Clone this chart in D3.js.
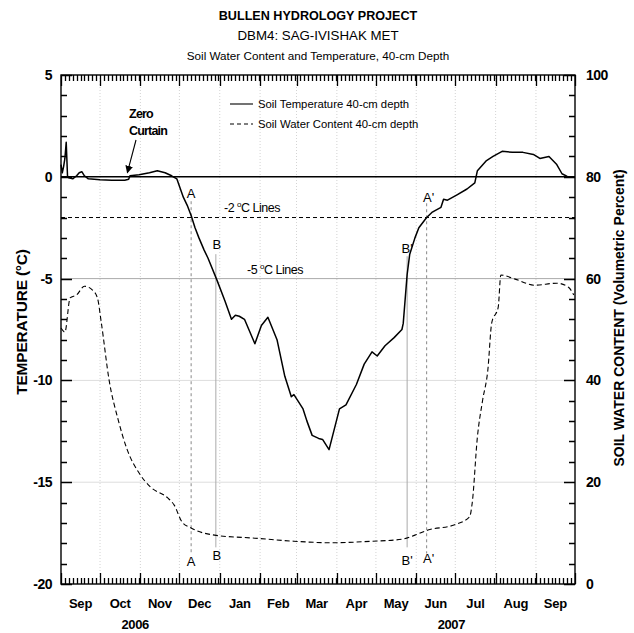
<!DOCTYPE html>
<html>
<head>
<meta charset="utf-8">
<script src="https://cdn.jsdelivr.net/npm/d3@7"></script>
<style>
  body { margin: 0; background: #fff; }
  svg { display: block; font-family: "Liberation Sans", Arial, sans-serif; }
</style>
</head>
<body>
<div id="app"></div>
<script>
// Soil temperature, 40-cm depth (deg C)
const tempSeries = [
  ['2006-09-01', 0.6], ['2006-09-02', 0.2], ['2006-09-03', 0.5], ['2006-09-04', 0.9],
  ['2006-09-05', 1.7], ['2006-09-06', 0.05], ['2006-09-07', -0.05], ['2006-09-10', -0.1],
  ['2006-09-13', 0.05], ['2006-09-15', 0.2], ['2006-09-17', 0.25], ['2006-09-19', 0.05],
  ['2006-09-22', -0.1], ['2006-10-01', -0.15], ['2006-10-10', -0.17], ['2006-10-20', -0.17],
  ['2006-10-23', -0.12], ['2006-10-24', 0.05], ['2006-10-31', 0.1], ['2006-11-08', 0.2],
  ['2006-11-14', 0.3], ['2006-11-20', 0.2], ['2006-11-25', 0.05], ['2006-11-29', -0.1],
  ['2006-12-04', -1.0], ['2006-12-07', -1.4], ['2006-12-10', -1.9], ['2006-12-13', -2.5],
  ['2006-12-16', -3.0], ['2006-12-20', -3.6], ['2006-12-23', -4.0], ['2006-12-30', -5.1],
  ['2007-01-05', -6.1], ['2007-01-10', -7.0], ['2007-01-13', -6.8], ['2007-01-16', -6.85],
  ['2007-01-20', -7.0], ['2007-01-28', -8.2], ['2007-02-02', -7.3], ['2007-02-07', -6.9],
  ['2007-02-14', -8.0], ['2007-02-20', -9.8], ['2007-02-25', -10.8], ['2007-02-27', -10.7],
  ['2007-03-06', -11.4], ['2007-03-09', -12.0], ['2007-03-13', -12.7], ['2007-03-18', -12.85],
  ['2007-03-21', -12.9], ['2007-03-26', -13.4], ['2007-04-03', -11.4], ['2007-04-08', -11.2],
  ['2007-04-16', -10.2], ['2007-04-22', -9.2], ['2007-04-28', -8.6], ['2007-05-02', -8.8],
  ['2007-05-08', -8.3], ['2007-05-15', -7.9], ['2007-05-21', -7.5], ['2007-05-22', -7.2],
  ['2007-05-25', -4.8], ['2007-05-27', -3.8], ['2007-05-31', -3.0], ['2007-06-03', -2.5],
  ['2007-06-09', -2.0], ['2007-06-13', -1.75], ['2007-06-20', -1.5], ['2007-06-22', -1.1],
  ['2007-06-25', -1.15], ['2007-07-02', -0.9], ['2007-07-10', -0.6], ['2007-07-16', -0.3],
  ['2007-07-18', 0.3], ['2007-07-25', 0.8], ['2007-07-30', 1.0], ['2007-08-06', 1.25],
  ['2007-08-14', 1.2], ['2007-08-22', 1.2], ['2007-08-30', 1.1], ['2007-09-04', 0.9],
  ['2007-09-11', 1.0], ['2007-09-17', 0.6], ['2007-09-21', 0.15], ['2007-09-25', 0.02],
  ['2007-09-30', 0.0]
];

// Soil water content, 40-cm depth (volumetric percent)
const waterSeries = [
  ['2006-09-01', 50.3], ['2006-09-04', 49.5], ['2006-09-08', 56.2], ['2006-09-13', 56.8],
  ['2006-09-19', 58.5], ['2006-09-25', 57.8], ['2006-09-29', 56.2], ['2006-10-02', 51.3],
  ['2006-10-08', 40.0], ['2006-10-15', 32.2], ['2006-10-22', 26.3], ['2006-10-31', 21.8],
  ['2006-11-09', 19.0], ['2006-11-22', 16.9], ['2006-11-27', 15.5], ['2006-12-03', 12.2],
  ['2006-12-10', 11.0], ['2006-12-28', 9.6], ['2007-01-28', 9.0], ['2007-02-27', 8.4],
  ['2007-03-28', 8.1], ['2007-04-28', 8.4], ['2007-05-21', 8.8], ['2007-05-31', 9.6],
  ['2007-06-10', 10.6], ['2007-06-30', 11.6], ['2007-07-12', 13.2], ['2007-07-14', 15.9],
  ['2007-07-18', 28.9], ['2007-07-22', 36.1], ['2007-07-26', 42.0], ['2007-07-29', 51.3],
  ['2007-08-03', 54.4], ['2007-08-05', 60.7], ['2007-08-16', 59.9], ['2007-08-31', 58.7],
  ['2007-09-17', 59.1], ['2007-09-26', 58.3], ['2007-09-30', 56.8]
];

// -2 C (A, A') and -5 C (B, B') crossing dates
const markers = [
  ['A', '2006-12-10'], ['B', '2006-12-29'], ["B'", '2007-05-25'], ["A'", '2007-06-09']
];

const tempTicks = [5, 0, -5, -10, -15, -20];
const waterTicks = [0, 20, 40, 60, 80, 100];
const monthLabels = ['Sep', 'Oct', 'Nov', 'Dec', 'Jan', 'Feb', 'Mar', 'Apr', 'May', 'Jun', 'Jul', 'Aug', 'Sep'];
const yearLabels = [['2006', '2006-10-28'], ['2007', '2007-06-28']];
const refLines = [0, -2, -5, -10, -15];

const width = 634;
const height = 633;
const plotLeft = 61, plotRight = 575, plotTop = 75, plotBottom = 584;
const majorLen = 11, minorLen = 6;

const parse = d3.timeParse('%Y-%m-%d');

const svg = d3.select('#app').append('svg')
  .attr('width', width)
  .attr('height', height);

const x = d3.scaleTime()
  .domain([new Date(2006, 8, 1), new Date(2007, 9, 1)])
  .range([plotLeft, plotRight]);
const yT = d3.scaleLinear().domain([-20, 5]).range([plotBottom, plotTop]);
const yW = d3.scaleLinear().domain([0, 100]).range([plotBottom, plotTop]);

const monthStarts = d3.timeMonth.range(new Date(2006, 8, 1), new Date(2007, 9, 2));

// Title
const titles = [
  ['BULLEN HYDROLOGY PROJECT', 20, 12.6, 'bold', 0],
  ['DBM4: SAG-IVISHAK MET', 40, 13.3, 'normal', 0],
  ['Soil Water Content and Temperature, 40-cm Depth', 60, 11.7, 'normal', 0]
];
svg.selectAll('.title')
  .data(titles)
  .enter().append('text')
  .attr('x', 318)
  .attr('y', d => d[1])
  .attr('text-anchor', 'middle')
  .style('font-size', d => `${d[2]}px`)
  .style('font-weight', d => d[3])
  .style('letter-spacing', d => `${d[4]}px`)
  .text(d => d[0]);

// Grid: dotted month lines
svg.append('g')
  .selectAll('line')
  .data(monthStarts.slice(1, -1))
  .enter().append('line')
  .attr('x1', d => x(d)).attr('x2', d => x(d))
  .attr('y1', plotTop).attr('y2', plotBottom)
  .attr('stroke', '#c8c8c8')
  .attr('stroke-width', 0.8)
  .attr('stroke-dasharray', '1,2');

// Horizontal reference lines
svg.append('g')
  .selectAll('line')
  .data(refLines)
  .enter().append('line')
  .attr('x1', plotLeft).attr('x2', plotRight)
  .attr('y1', d => yT(d)).attr('y2', d => yT(d))
  .attr('stroke', d => d === 0 || d === -2 ? '#000' : d === -5 ? '#aaa' : '#ddd')
  .attr('stroke-width', d => d === 0 ? 1.4 : 1)
  .attr('stroke-dasharray', d => d === -2 ? '4,3' : null);

// A/B marker lines
const markerLayout = {
  A:    { labelTop: -0.8, lineTop: -1.2, lineBottom: -18.5, labelBottom: -18.9, dx: 0 },
  B:    { labelTop: -3.3, lineTop: -3.8, lineBottom: -18.2, labelBottom: -18.6, dx: 1 },
  "B'": { labelTop: -3.5, lineTop: -3.9, lineBottom: -18.2, labelBottom: -18.85, dx: 0 },
  "A'": { labelTop: -1.0, lineTop: -1.3, lineBottom: -18.5, labelBottom: -18.75, dx: 2 }
};
const mg = svg.append('g');
markers.forEach(([label, date]) => {
  const xm = x(parse(date));
  const lay = markerLayout[label];
  const dashed = label[0] === 'A';
  mg.append('line')
    .attr('x1', xm).attr('x2', xm)
    .attr('y1', yT(lay.lineTop)).attr('y2', yT(lay.lineBottom))
    .attr('stroke', dashed ? '#888' : '#aaa')
    .attr('stroke-width', 1)
    .attr('stroke-dasharray', dashed ? '3,3' : null);
  [lay.labelTop, lay.labelBottom].forEach(v => {
    mg.append('text')
      .attr('x', xm + lay.dx)
      .attr('y', yT(v))
      .attr('dy', '0.35em')
      .attr('text-anchor', 'middle')
      .style('font-size', '13px')
      .text(label);
  });
});

// Water content (dashed)
const waterLine = d3.line()
  .x(d => x(parse(d[0])))
  .y(d => yW(d[1]))
  .curve(d3.curveMonotoneX);
svg.append('path')
  .datum(waterSeries)
  .attr('d', waterLine)
  .attr('fill', 'none')
  .attr('stroke', '#000')
  .attr('stroke-width', 1.1)
  .attr('stroke-dasharray', '5,3');

// Temperature (solid)
const tempLine = d3.line()
  .x(d => x(parse(d[0])))
  .y(d => yT(d[1]));
svg.append('path')
  .datum(tempSeries)
  .attr('d', tempLine)
  .attr('fill', 'none')
  .attr('stroke', '#000')
  .attr('stroke-width', 1.5)
  .attr('stroke-linejoin', 'round');

// Tick marks (inward on all four sides), built as one path
const minorDays = d3.timeDay.every(3).range(new Date(2006, 8, 1), new Date(2007, 9, 1))
  .filter(d => d.getDate() !== 1);
const minorT = d3.range(-20, 6, 1).filter(v => v % 5 !== 0);
const minorW = d3.range(0, 101, 4).filter(v => v % 20 !== 0);

const tickPath = d3.path();
[[monthStarts, majorLen], [minorDays, minorLen]].forEach(([vals, len]) => {
  vals.forEach(d => {
    const px = Math.round(x(d)) + 0.5;
    tickPath.moveTo(px, plotBottom); tickPath.lineTo(px, plotBottom - len);
    tickPath.moveTo(px, plotTop); tickPath.lineTo(px, plotTop + len);
  });
});
[[tempTicks, majorLen, yT, plotLeft, 1], [minorT, minorLen, yT, plotLeft, 1],
 [waterTicks, majorLen, yW, plotRight, -1], [minorW, minorLen, yW, plotRight, -1]].forEach(([vals, len, sc, x0, dir]) => {
  vals.forEach(v => {
    const py = Math.round(sc(v)) + 0.5;
    tickPath.moveTo(x0, py); tickPath.lineTo(x0 + dir * len, py);
  });
});
svg.append('path')
  .attr('d', tickPath.toString())
  .attr('fill', 'none')
  .attr('stroke', '#000')
  .attr('stroke-width', 1.3);

// Tick labels via axes (tick lines hidden)
const labelAxis = g => {
  g.select('.domain').remove();
  g.selectAll('.tick line').remove();
  g.selectAll('.tick text')
    .style('font-family', '"Liberation Sans", Arial, sans-serif')
    .style('font-size', '14px')
    .style('font-weight', 'bold')
    .style('letter-spacing', '-0.5px')
    .attr('fill', '#000');
};
svg.append('g')
  .attr('transform', `translate(${plotLeft},0)`)
  .call(d3.axisLeft(yT).tickValues(tempTicks).tickSize(0).tickPadding(9).tickFormat(d => String(d)))
  .call(labelAxis);
svg.append('g')
  .attr('transform', `translate(${plotRight},0)`)
  .call(d3.axisRight(yW).tickValues(waterTicks).tickSize(0).tickPadding(11).tickFormat(d => String(d)))
  .call(labelAxis);

// Frame
svg.append('rect')
  .attr('x', plotLeft).attr('y', plotTop)
  .attr('width', plotRight - plotLeft).attr('height', plotBottom - plotTop)
  .attr('fill', 'none')
  .attr('stroke', '#000')
  .attr('stroke-width', 1.4);

// Month and year labels
svg.append('g')
  .selectAll('text')
  .data(monthStarts.slice(0, -1))
  .enter().append('text')
  .attr('x', d => (x(d) + x(d3.timeMonth.offset(d, 1))) / 2)
  .attr('y', 608)
  .attr('text-anchor', 'middle')
  .style('font-size', '13px')
  .style('font-weight', 'bold')
  .style('letter-spacing', '-0.2px')
  .text((d, i) => monthLabels[i]);

svg.append('g')
  .selectAll('text')
  .data(yearLabels)
  .enter().append('text')
  .attr('x', d => x(parse(d[1])))
  .attr('y', 629)
  .attr('text-anchor', 'middle')
  .style('font-size', '13px')
  .style('font-weight', 'bold')
  .style('letter-spacing', '-0.4px')
  .text(d => d[0]);

// Axis titles
svg.append('text')
  .attr('transform', 'translate(27,322) rotate(-90)')
  .attr('text-anchor', 'middle')
  .style('font-size', '15.5px')
  .style('font-weight', 'bold')
  .style('letter-spacing', '-0.2px')
  .text('TEMPERATURE (°C)');

svg.append('text')
  .attr('transform', 'translate(624,318) rotate(-90)')
  .attr('text-anchor', 'middle')
  .style('font-size', '14px')
  .style('font-weight', 'bold')
  .text('SOIL WATER CONTENT (Volumetric Percent)');

// Legend
const legend = svg.append('g');
[['Soil Temperature 40-cm depth', 104, null], ['Soil Water Content 40-cm depth', 124, '4,3']].forEach(([label, ly, dash]) => {
  legend.append('line')
    .attr('x1', 230).attr('x2', 253)
    .attr('y1', ly).attr('y2', ly)
    .attr('stroke', '#000')
    .attr('stroke-width', 1.1)
    .attr('stroke-dasharray', dash);
  legend.append('text')
    .attr('x', 258).attr('y', ly + 4)
    .style('font-size', '11.3px')
    .text(label);
});

// Annotations
svg.append('defs').append('marker')
  .attr('id', 'arrow')
  .attr('viewBox', '0 0 10 10')
  .attr('refX', 9).attr('refY', 5)
  .attr('markerWidth', 7).attr('markerHeight', 7)
  .attr('orient', 'auto')
  .append('path')
  .attr('d', 'M0,0 L10,5 L0,10 z')
  .attr('fill', '#000');

[['Zero', 141, 118], ['Curtain', 148, 135]].forEach(([t, tx, ty]) => {
  svg.append('text')
    .attr('x', tx).attr('y', ty)
    .attr('text-anchor', 'middle')
    .style('font-size', '12.5px')
    .style('font-weight', 'bold')
    .style('letter-spacing', '-0.8px')
    .text(t);
});
svg.append('line')
  .attr('x1', 136).attr('y1', 140)
  .attr('x2', x(parse('2006-10-22'))).attr('y2', yT(0.2))
  .attr('stroke', '#000')
  .attr('stroke-width', 1.1)
  .attr('marker-end', 'url(#arrow)');

[['-2', -1.75, 224], ['-5', -4.75, 247]].forEach(([v, tv, tx]) => {
  const t = svg.append('text')
    .attr('x', tx).attr('y', yT(tv))
    .style('font-size', '12.5px')
    .style('letter-spacing', '-0.5px');
  t.append('tspan').text(v + ' ');
  t.append('tspan').attr('dy', -5).style('font-size', '8px').text('o');
  t.append('tspan').attr('dy', 5).text('C Lines');
});
</script>
</body>
</html>
